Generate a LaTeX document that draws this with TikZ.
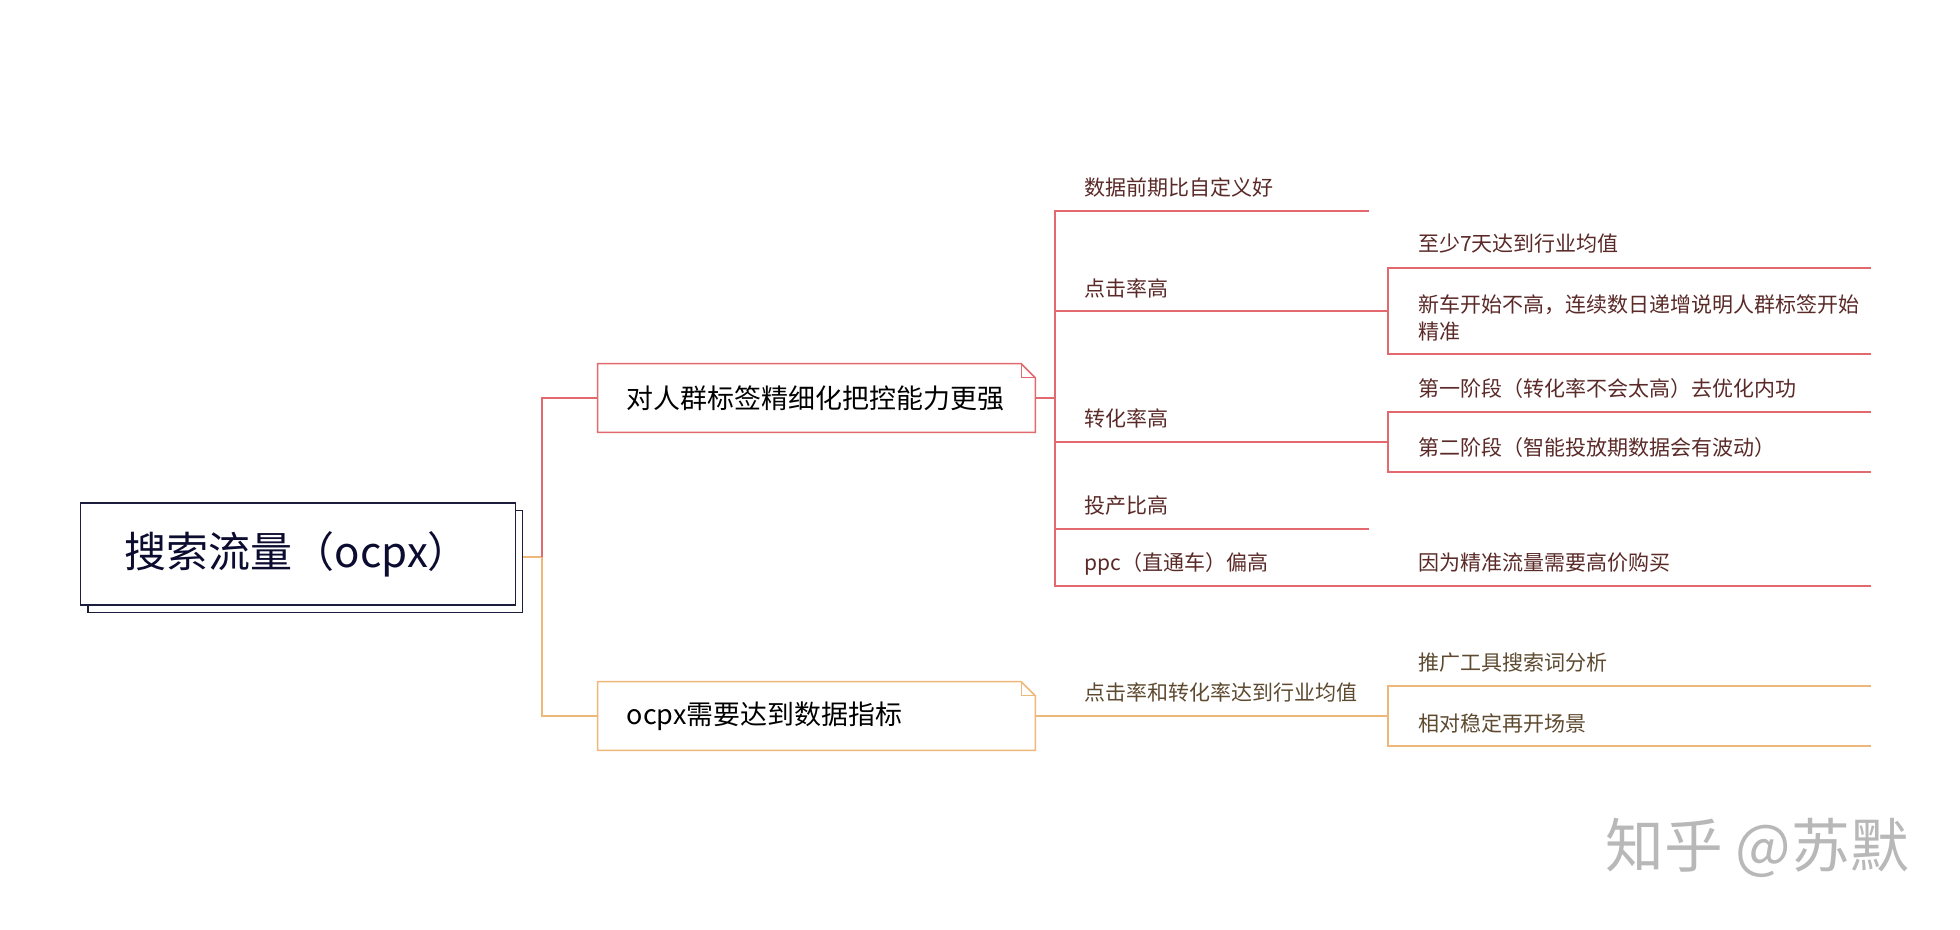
\documentclass[tikz,border=0pt]{standalone}
\usepackage{fontspec}
\setmainfont{Noto Sans CJK SC}
\tikzset{
  x=0.75pt,y=-0.75pt,
  conn/.style={line width=1.125pt,line join=miter},
  redline/.style={conn,draw=redc},
  orgline/.style={conn,draw=orgc},
  lbl/.style={anchor=west,inner sep=0pt,yshift=-2.25pt,font=\fontsize{15.75pt}{20.25pt}\selectfont,text height=0.88em,text depth=0.12em},
  redlbl/.style={lbl,text=redt},
  orglbl/.style={lbl,text=orgt},
  rootbox/.style={draw=rootc,fill=white,line width=1.125pt,inner sep=0pt,minimum width=326pt,minimum height=76.5pt},
  topicbox/.style={inner sep=0pt,minimum width=327.75pt,minimum height=51pt,text=black,font=\fontsize{20.2pt}{24pt}\selectfont}
}
\definecolor{redc}{HTML}{E26A6E}
\definecolor{orgc}{HTML}{EDB87A}
\definecolor{redt}{HTML}{5A2A28}
\definecolor{orgt}{HTML}{5E4A30}
\definecolor{rootc}{HTML}{1C1C3C}
\definecolor{roott}{HTML}{0C0C30}
\definecolor{wmark}{HTML}{B8B8B8}
\begin{document}
\begin{tikzpicture}
\useasboundingbox[fill=white] (0,0) rectangle (1960,929);
% root
\node[rootbox] (rootshadow) at (305.3,561.5) {};
\node[rootbox,text=roott,font=\fontsize{31.5pt}{36pt}\selectfont] (root) at (298,554) {\makebox[326pt][l]{\hspace{33.2pt}\raisebox{-1.8pt}{搜索流量（ocpx）}}};
% topics
\node[topicbox] (t1) at (816.5,398) {\makebox[327.75pt][l]{\hspace{21.7pt}\raisebox{-0.5pt}{对人群标签精细化把控能力更强}}};
\node[topicbox] (t2) at (816.5,716) {\makebox[327.75pt][l]{\hspace{21.7pt}\raisebox{-1pt}{ocpx需要达到数据指标}}};
\draw[redline] (t1.south west) -- (t1.north west) -- ([xshift=-10.5pt]t1.north east) -- ([yshift=-10.5pt]t1.north east) -- (t1.south east) -- cycle;
\draw[redline] ([xshift=-10.5pt]t1.north east) -- ([xshift=-10.5pt,yshift=-10.5pt]t1.north east) -- ([yshift=-10.5pt]t1.north east);
\draw[orgline] (t2.south west) -- (t2.north west) -- ([xshift=-10.5pt]t2.north east) -- ([yshift=-10.5pt]t2.north east) -- (t2.south east) -- cycle;
\draw[orgline] ([xshift=-10.5pt]t2.north east) -- ([xshift=-10.5pt,yshift=-10.5pt]t2.north east) -- ([yshift=-10.5pt]t2.north east);
% root connectors
\coordinate (rootout) at (rootshadow.east |- 0,557);
\coordinate (trunk) at (542,557);
\draw[orgline] (rootout) -- (trunk);
\draw[redline] (trunk) |- (t1.west);
\draw[orgline] (trunk) |- (t2.west);
% level 2 red
\node[redlbl] (a1) at (1084.6,187) {数据前期比自定义好};
\node[redlbl] (a2) at (1084.6,288) {点击率高};
\node[redlbl] (a3) at (1084.6,418) {转化率高};
\node[redlbl] (a4) at (1084.6,505) {投产比高};
\node[redlbl] (a5) at (1084.6,562) {ppc（直通车）偏高};
\coordinate (bus) at (1055,398);
\coordinate (e1) at (1369,211);
\coordinate (e2) at (1388,311);
\coordinate (e3) at (1388,442);
\coordinate (e4) at (1369,529);
\coordinate (e5) at (1871,586);
\draw[redline] (t1.east) -- (bus);
\draw[redline] (bus) |- (e1);
\draw[redline] (bus) |- (e2);
\draw[redline] (bus) |- (e3);
\draw[redline] (bus) |- (e4);
\draw[redline] (bus) |- (e5);
% level 3 red
\node[redlbl] (b1) at (1418,243) {至少7天达到行业均值};
\node[redlbl,align=left,anchor=north west,text height=,text depth=] (b2) at (1418,291.5) {新车开始不高，连续数日递增说明人群标签开始\\精准};
\node[redlbl] (b3) at (1418,388) {第一阶段（转化率不会太高）去优化内功};
\node[redlbl] (b4) at (1418,447) {第二阶段（智能投放期数据会有波动）};
\node[redlbl] (b5) at (1418,562) {因为精准流量需要高价购买};
\coordinate (f1) at (1871,268);
\coordinate (f2) at (1871,354);
\coordinate (f3) at (1871,412);
\coordinate (f4) at (1871,472);
\draw[redline] (e2) |- (f1);
\draw[redline] (e2) |- (f2);
\draw[redline] (e3) |- (f3);
\draw[redline] (e3) |- (f4);
% orange branch
\node[orglbl] (c1) at (1084.6,692) {点击率和转化率达到行业均值};
\node[orglbl] (d1) at (1418,662) {推广工具搜索词分析};
\node[orglbl] (d2) at (1418,723) {相对稳定再开场景};
\coordinate (g0) at (1388,716);
\coordinate (g1) at (1871,686);
\coordinate (g2) at (1871,746);
\draw[orgline] (t2.east) -- (g0);
\draw[orgline] (g0) |- (g1);
\draw[orgline] (g0) |- (g2);
% watermark
\node[anchor=center,inner sep=0pt,text=wmark,font=\fontsize{44pt}{48pt}\selectfont] (wm) at (1757,848) {知乎 @苏默};
\end{tikzpicture}
\end{document}
